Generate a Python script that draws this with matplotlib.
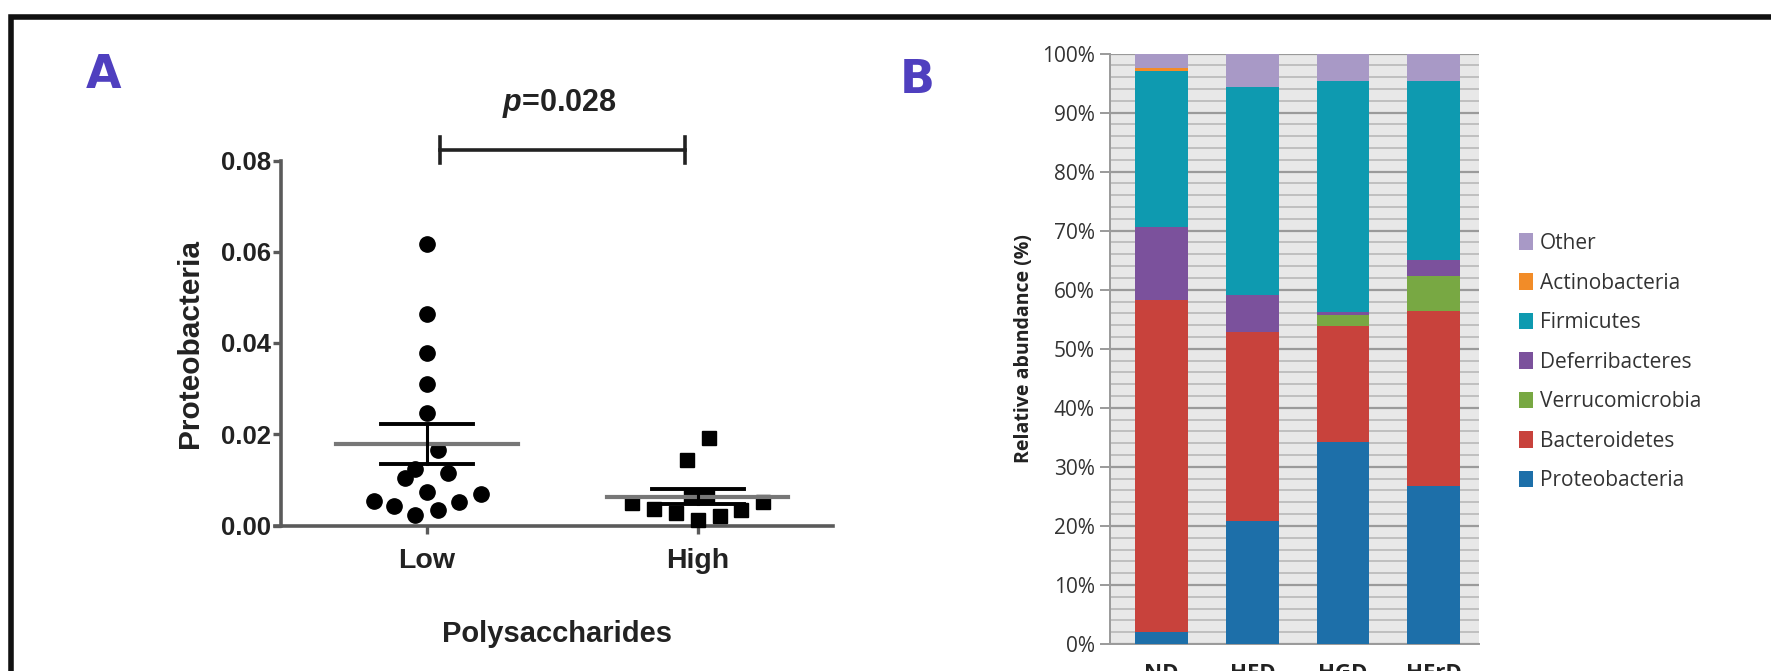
import numpy as np
import matplotlib
matplotlib.use('Agg')
import matplotlib.pyplot as plt
from matplotlib.patches import Rectangle
from matplotlib.ticker import MultipleLocator, FuncFormatter

#---------------------------------------------------------#
# Data
#---------------------------------------------------------#
# Panel A: Proteobacteria abundance per sample, low / high polysaccharide
groups_a = ['Low', 'High']
low_jitter = [0, 0, 0, 0, 0, 0.04, -0.044, -0.08, 0.08, 0, 0.2, -0.196, 0.12, -0.12, 0.04, -0.044]
low_vals = [0.0617, 0.0464, 0.0377, 0.0310, 0.0247, 0.0166, 0.0123, 0.0104, 0.0115,
            0.0073, 0.0069, 0.0053, 0.0051, 0.0042, 0.0034, 0.0024]
high_jitter = [0.041, -0.04, -0.243, -0.162, -0.08, 0, 0.081, 0.16, 0.24, -0.024, 0.036]
high_vals = [0.0192, 0.0143, 0.0050, 0.0037, 0.0028, 0.0013, 0.0020, 0.0035, 0.0051,
             0.0063, 0.0063]
p_text = '=0.028'

# Panel B: relative abundance (%) per diet
diets = ['ND', 'HFD', 'HGD', 'HFrD']
phyla = ['Proteobacteria', 'Bacteroidetes', 'Verrucomicrobia', 'Deferribacteres',
         'Firmicutes', 'Actinobacteria', 'Other']
proteo = [2.0, 20.8, 34.2, 26.8]
bacter = [56.2, 32.0, 19.7, 29.6]
verruco = [0.0, 0.0, 1.8, 6.0]
deferri = [12.5, 6.3, 0.5, 2.7]
firmi = [26.4, 35.3, 39.2, 30.3]
actino = [0.4, 0.0, 0.0, 0.0]
other = [2.5, 5.6, 4.6, 4.6]
colors_b = ['#1d6fa9', '#c8423c', '#78a843', '#7b519c', '#0e9ab0', '#f28c28', '#a899c6']

#---------------------------------------------------------#
# Figure
#---------------------------------------------------------#
plt.rcParams['mathtext.fontset'] = 'custom'
plt.rcParams['mathtext.it'] = 'Liberation Sans:italic:bold'
plt.rcParams['mathtext.rm'] = 'Liberation Sans:bold'

fig = plt.figure(figsize=(17.71, 6.71), dpi=100)
W, H = 1771, 671

# outer black frame (runs off the right and bottom edges)
fig.patches.append(Rectangle((11 / W, -0.1), 1.2, (H - 17) / H + 0.1,
                             transform=fig.transFigure, fill=False,
                             edgecolor='#111111', linewidth=4))

lab_kw = dict(fontsize=33, fontweight='bold', color='#4f3fbf', family='DejaVu Sans')
fig.text(86 / W, (H - 88) / H, 'A', va='baseline', ha='left', **lab_kw)
fig.text(900 / W, (H - 93) / H, 'B', va='baseline', ha='left', **lab_kw)

#---------------------------------------------------------#
# Panel A: dot plot with mean +/- SEM
#---------------------------------------------------------#
ax1 = fig.add_axes([280.6 / W, (H - 525.5) / H, (833 - 280.6) / W, (525.5 - 160.5) / H])
ax1.set_xlim(-0.54, 1.5)
ax1.set_ylim(0, 0.08)

axis_gray = '#5a5a5a'
for s in ['top', 'right']:
    ax1.spines[s].set_visible(False)
for s in ['left', 'bottom']:
    ax1.spines[s].set_color(axis_gray)
    ax1.spines[s].set_linewidth(2.6)
ax1.spines['bottom'].set_bounds(-0.56, 1.5)

ax1.plot(np.array(low_jitter) + 0, low_vals, 'o', color='black', markersize=11, zorder=3,
         clip_on=False)
ax1.plot(np.array(high_jitter) + 1, high_vals, 's', color='black', markersize=9.5, zorder=3,
         clip_on=False)

for xpos, vals in [(0, low_vals), (1, high_vals)]:
    v = np.array(vals)
    m = v.mean()
    sem = v.std(ddof=1) / np.sqrt(len(v))
    ax1.plot([xpos - 0.335, xpos + 0.335], [m, m], color='#777777', lw=3.0, zorder=4)
    ax1.plot([xpos - 0.17, xpos + 0.17], [m + sem, m + sem], color='black', lw=2.8, zorder=4)
    ax1.plot([xpos - 0.17, xpos + 0.17], [m - sem, m - sem], color='black', lw=2.8, zorder=4)
    ax1.plot([xpos, xpos], [m - sem, m + sem], color='black', lw=2.2, zorder=4)

ax1.set_xticks([0, 1])
ax1.set_xticklabels(groups_a)
ax1.yaxis.set_major_locator(MultipleLocator(0.02))
ax1.yaxis.set_major_formatter(FuncFormatter(lambda v, _: f'{v:.2f}'))
ax1.tick_params(axis='both', direction='out', length=6, width=2.4, color=axis_gray,
                labelcolor='#222222')
ax1.tick_params(axis='y', labelsize=18.5, pad=1)
ax1.tick_params(axis='x', labelsize=20.5, pad=10)
for lbl in ax1.get_xticklabels() + ax1.get_yticklabels():
    lbl.set_family('Liberation Sans')
    lbl.set_fontweight('bold')

ax1.set_xlabel('Polysaccharides', fontsize=21, fontweight='bold', family='Liberation Sans',
               color='#222222', labelpad=33)
ax1.set_ylabel('Proteobacteria', fontsize=21.5, fontweight='bold', family='Liberation Sans',
               color='#222222', labelpad=12)

# significance bracket
ax1.plot([0.047, 0.954], [0.0823, 0.0823], color='#222222', lw=2.6, clip_on=False)
for xe in [0.047, 0.954]:
    ax1.plot([xe, xe], [0.0795, 0.0851], color='#222222', lw=2.6, clip_on=False)
ax1.text(0.49, 0.0926, r'$p$' + p_text, ha='center', va='center', fontsize=22,
         fontweight='bold', family='Liberation Sans', color='#222222')

#---------------------------------------------------------#
# Panel B: stacked relative abundance bars
#---------------------------------------------------------#
ax2 = fig.add_axes([1110 / W, (H - 644) / H, (1479 - 1110) / W, (644 - 53.5) / H])
ax2.set_facecolor('#e8e8e8')
ax2.set_xlim(-0.57, 3.5)
ax2.set_ylim(0, 1)

x = np.arange(len(diets))
series = [proteo, bacter, verruco, deferri, firmi, actino, other]
bottom = np.zeros(len(diets))
handles = []
for name, vals, col in zip(phyla, series, colors_b):
    v = np.array(vals) / 100.0
    h = ax2.bar(x, v, width=0.58, bottom=bottom, color=col, edgecolor='none',
                label=name, zorder=3)
    handles.append(h)
    bottom += v

ax2.yaxis.set_major_locator(MultipleLocator(0.1))
ax2.yaxis.set_minor_locator(MultipleLocator(0.02))
ax2.yaxis.set_major_formatter(FuncFormatter(lambda v, _: f'{v * 100:.0f}%'))
ax2.grid(axis='y', which='major', color='#9a9a9a', lw=1.6, zorder=1)
ax2.grid(axis='y', which='minor', color='#b4b4b4', lw=1.1, zorder=1)
ax2.set_axisbelow(True)
for s in ['top', 'right']:
    ax2.spines[s].set_visible(False)
for s in ['left', 'bottom']:
    ax2.spines[s].set_color('#9a9a9a')
    ax2.spines[s].set_linewidth(1.4)
ax2.tick_params(axis='y', which='major', direction='out', length=7, width=1.4,
                color='#9a9a9a', labelsize=15, labelcolor='#333333', pad=4)
ax2.tick_params(axis='y', which='minor', length=0)
ax2.set_xticks(x)
ax2.set_xticklabels(diets)
ax2.tick_params(axis='x', length=0, labelsize=16, labelcolor='#222222', pad=14)
for lbl in ax2.get_xticklabels():
    lbl.set_fontweight('bold')
for lbl in ax2.get_xticklabels() + ax2.get_yticklabels():
    lbl.set_family('Open Sans')

ax2.set_ylabel('Relative abundance (%)', fontsize=14, fontweight='bold', family='Open Sans',
               color='#222222', labelpad=6)

fig.legend(handles[::-1], phyla[::-1], loc='upper left', bbox_to_anchor=(1519 / W, (H - 233) / H),
           frameon=False, borderpad=0, borderaxespad=0, handlelength=0.65, handleheight=0.85,
           handletextpad=0.35, labelspacing=0.89, prop={'family': 'Open Sans', 'size': 15},
           labelcolor='#333333')

fig.savefig('out.png', dpi=100)
